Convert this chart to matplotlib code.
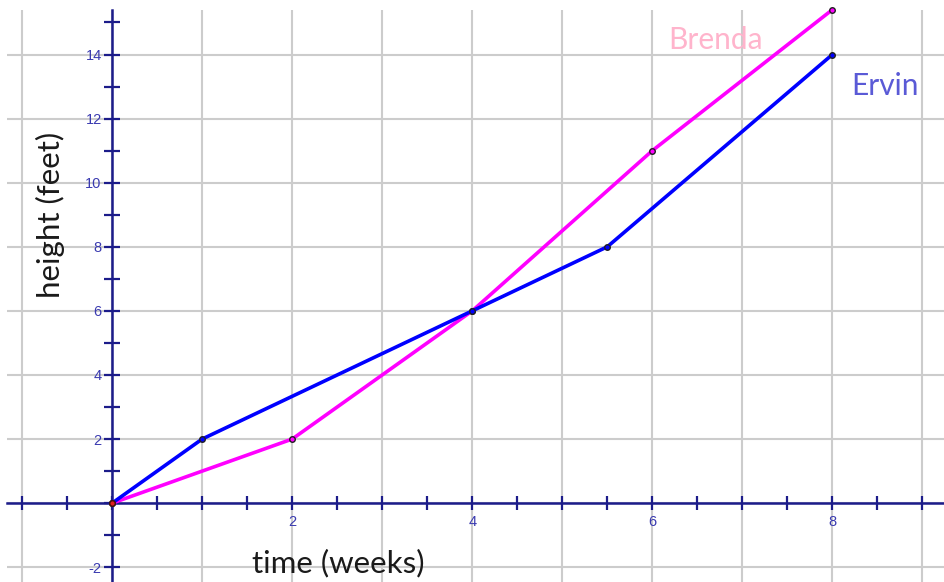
import matplotlib
matplotlib.use("Agg")
import matplotlib.pyplot as plt
from matplotlib.ticker import MultipleLocator, FuncFormatter

# growth data
brenda_weeks = [0, 2, 4, 6, 8]
brenda_feet = [0, 2, 6, 11, 15.4]
ervin_weeks = [0, 1, 4, 5.5, 8]
ervin_feet = [0, 2, 6, 8, 14]

x_labels = [2, 4, 6, 8]
y_labels = [-2, 2, 4, 6, 8, 10, 12, 14]

axis_col = '#1c1c8a'
tick_col = '#3a3ab0'
grid_col = '#cccccc'

fig = plt.figure(figsize=(9.44, 5.82), dpi=100)
ax = fig.add_axes([7 / 944, 0, 937 / 944, 572 / 582])
ax.set_xlim(-1.167, 9.24)
ax.set_ylim(-2.46, 15.39)

# grid: every week, every 2 feet
for gx in range(-1, 10):
    ax.axvline(gx, color=grid_col, lw=1.5, zorder=0)
for gy in range(-2, 16, 2):
    ax.axhline(gy, color=grid_col, lw=1.5, zorder=0)

# axes through the origin
for s in ['top', 'right']:
    ax.spines[s].set_visible(False)
ax.spines['left'].set_position(('data', 0))
ax.spines['bottom'].set_position(('data', 0))
for s in ['left', 'bottom']:
    ax.spines[s].set_color(axis_col)
    ax.spines[s].set_linewidth(1.8)
    ax.spines[s].set_zorder(1)

ax.xaxis.set_major_locator(MultipleLocator(0.5))
ax.yaxis.set_major_locator(MultipleLocator(1))
ax.xaxis.set_major_formatter(FuncFormatter(
    lambda v, p: str(int(round(v))) if round(v, 3) in x_labels else ''))
ax.yaxis.set_major_formatter(FuncFormatter(
    lambda v, p: str(int(round(v))) if round(v, 3) in y_labels else ''))
ax.tick_params(axis='x', direction='inout', length=9.5, width=1.6,
               color=axis_col, labelcolor=tick_col, labelsize=10.5, pad=4)
ax.tick_params(axis='y', direction='inout', length=11, width=1.6,
               color=axis_col, labelcolor=tick_col, labelsize=10.5, pad=2)
for lab in ax.get_xticklabels() + ax.get_yticklabels():
    lab.set_family('Liberation Sans')

ax.plot(brenda_weeks, brenda_feet, color='#ff00ff', lw=2.6, zorder=3,
        marker='o', ms=4, mfc='#ff00ff', mec='#202020', mew=1,
        clip_on=False, solid_capstyle='round')
ax.plot(ervin_weeks, ervin_feet, color='#0000ff', lw=2.6, zorder=4,
        marker='o', ms=4, mfc='#0000ff', mec='#202020', mew=1,
        clip_on=False, solid_capstyle='round')
ax.plot([0], [0], 'o', ms=4, color='#e02020', mec='#401010', zorder=5)

ax.text(6.70, 14.46, 'Brenda', color='#ffb4cc', fontsize=21.5,
        family='Lato', ha='center', va='center')
ax.text(8.59, 13.03, 'Ervin', color='#5a5ad6', fontsize=21.5,
        family='Lato', ha='center', va='center')

ax.text(2.51, -1.86, 'time (weeks)', color='#1a1a1a', fontsize=22.5,
        family='Lato', ha='center', va='center')
ax.text(-0.69, 9.0, 'height (feet)', color='#1a1a1a', fontsize=22.5,
        family='Lato', ha='center', va='center', rotation=90)

fig.savefig('out.png', dpi=100, facecolor='white')
